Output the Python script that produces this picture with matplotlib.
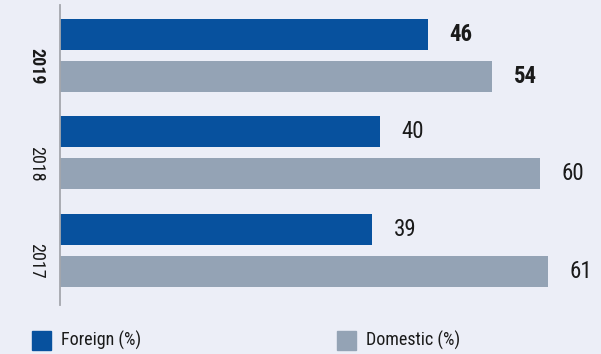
import matplotlib
matplotlib.use("Agg")
import matplotlib.pyplot as plt
from matplotlib.patches import Rectangle
from matplotlib import font_manager
import numpy as np

years = ["2019", "2018", "2017"]
foreign = [46, 40, 39]
domestic = [54, 60, 61]
series_names = ["Foreign (%)", "Domestic (%)"]

blue = "#07519e"
grey = "#94a3b5"
bg = "#eceef7"

# pick a narrow sans if one is around
names = {f.name for f in font_manager.fontManager.ttflist}
fam = "Liberation Sans"
for cand in ["Liberation Sans Narrow", "Arial Narrow", "Roboto Condensed",
             "Archivo Narrow", "PT Sans Narrow"]:
    if cand in names:
        fam = cand
        break
plt.rcParams["font.family"] = [fam, "DejaVu Sans"]

W, H = 601, 354
fig = plt.figure(figsize=(W / 100, H / 100), dpi=100, facecolor=bg)
ax = fig.add_axes([59.5 / W, 1 - 305 / H, 536 / W, 300 / H])
ax.set_facecolor(bg)

y = np.arange(len(years))
off = 0.216
bh = 0.319
b1 = ax.barh(y - off, foreign, height=bh, color=blue)
b2 = ax.barh(y + off, domestic, height=bh, color=grey)

ax.set_xlim(0, 67)
ax.set_ylim(2.565, -0.519)

for bars, vals in ((b1, foreign), (b2, domestic)):
    for i, (r, v) in enumerate(zip(bars, vals)):
        ax.annotate(str(v), (v, r.get_y() + r.get_height() / 2),
                    xytext=(16, 0), textcoords="offset points",
                    ha="left", va="center", fontsize=16.5,
                    fontweight="bold" if i == 0 else "normal", color="#1a1a1a")

ax.set_yticks(y)
ax.set_yticklabels(years, rotation=270, fontsize=13, color="#1a1a1a")
ax.get_yticklabels()[0].set_fontweight("bold")
ax.tick_params(axis="y", length=0, pad=10)
ax.set_xticks([])

for s in ["top", "right", "bottom"]:
    ax.spines[s].set_visible(False)
ax.spines["left"].set_color("#a4a7ad")
ax.spines["left"].set_linewidth(1.3)

# legend drawn by hand along the bottom
for x0, col, name in ((32, blue, series_names[0]), (337, grey, series_names[1])):
    fig.patches.append(Rectangle((x0 / W, 1 - 350 / H), 19 / W, 19 / H,
                                 transform=fig.transFigure, color=col))
    fig.text((x0 + 29) / W, 1 - 340.5 / H, name, fontsize=13,
             va="center", ha="left", color="#1a1a1a")

fig.savefig("out.png", dpi=100, facecolor=bg)
